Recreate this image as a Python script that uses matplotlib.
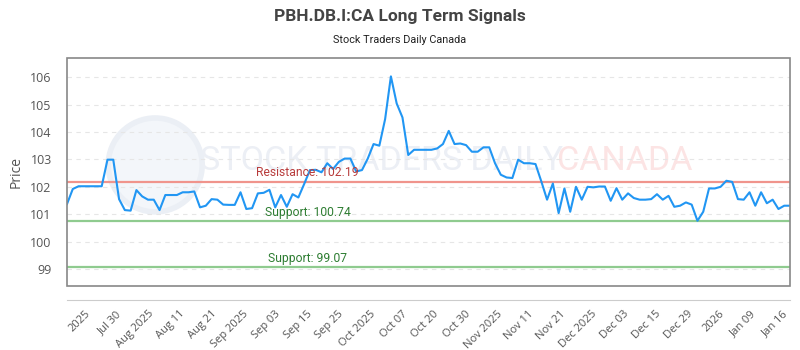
import matplotlib
matplotlib.use("Agg")
import matplotlib.pyplot as plt
from matplotlib.patches import Rectangle, Ellipse
import numpy as np

# ---- data ----
prices = [
    101.37, 101.92, 102.02, 102.02, 102.02, 102.02, 102.02, 102.99, 102.99, 101.55,
    101.15, 101.13, 101.88, 101.65, 101.53, 101.53, 101.15, 101.70, 101.70, 101.70,
    101.80, 101.80, 101.83, 101.25, 101.31, 101.55, 101.53, 101.35, 101.34, 101.34,
    101.80, 101.19, 101.22, 101.76, 101.78, 101.89, 101.25, 101.70, 101.27, 101.73,
    101.61, 102.10, 102.61, 102.62, 102.53, 102.86, 102.65, 102.91, 103.03, 103.03,
    102.56, 102.61, 103.03, 103.56, 103.50, 104.47, 106.03, 105.04, 104.53, 103.16,
    103.35, 103.35, 103.35, 103.35, 103.40, 103.56, 104.04, 103.56, 103.58, 103.52,
    103.28, 103.28, 103.44, 103.44, 102.86, 102.44, 102.34, 102.32, 102.99, 102.86,
    102.86, 102.83, 102.20, 101.53, 102.12, 101.04, 101.94, 101.09, 102.00, 101.53,
    102.00, 101.98, 102.01, 102.01, 101.49, 101.95, 101.53, 101.76, 101.59, 101.53,
    101.53, 101.55, 101.73, 101.53, 101.67, 101.27, 101.31, 101.43, 101.35, 100.76,
    101.09, 101.94, 101.94, 102.00, 102.22, 102.18, 101.55, 101.53, 101.80, 101.31,
    101.80, 101.40, 101.53, 101.19, 101.31, 101.31,
]
tick_labels = ["2025", "Jul 30", "Aug 2025", "Aug 11", "Aug 21", "Sep 2025", "Sep 03",
               "Sep 15", "Sep 25", "Oct 2025", "Oct 07", "Oct 20", "Oct 30", "Nov 2025",
               "Nov 11", "Nov 21", "Dec 2025", "Dec 03", "Dec 15", "Dec 29", "2026",
               "Jan 09", "Jan 16"]
resistance = 102.19
supports = [100.74, 99.07]
y_ticks = [99, 100, 101, 102, 103, 104, 105, 106]

title = "PBH.DB.I:CA Long Term Signals"
subtitle = "Stock Traders Daily Canada"

# ---- figure ----
fig = plt.figure(figsize=(8, 3.5), dpi=100)
top_px, bot_px, left_px, right_px = 58, 286, 67, 790
ax = fig.add_axes([left_px/800, 1 - bot_px/350, (right_px-left_px)/800, (bot_px-top_px)/350])

x = np.arange(len(prices))
ax.set_xlim(0, len(prices) - 1)
ax.set_ylim(98.38, 106.70)

# watermark
ax.add_patch(Ellipse((0.122, 0.531), 0.13, 0.412, transform=ax.transAxes,
                     facecolor="#f3f6fa", edgecolor="#ebeff5", lw=4, zorder=0))
ax.text(0.184, 0.548, "STOCK TRADERS DAILY", transform=ax.transAxes,
        family=["Liberation Sans Narrow", "Roboto"], fontsize=24.5, color="#eceff5",
        va="center", ha="left", zorder=0)
ax.text(0.678, 0.548, "CANADA", transform=ax.transAxes,
        family=["Liberation Sans Narrow", "Roboto"], fontsize=24.5, color="#fce4e4",
        va="center", ha="left", zorder=0)

ax.set_yticks(y_ticks)
ax.grid(axis="y", color="#e6e6e6", linestyle=(0, (4, 4)), linewidth=0.8)
ax.set_axisbelow(True)

ax.axhline(resistance, color="#f0948c", lw=1.6, zorder=2)
for s in supports:
    ax.axhline(s, color="#8fcb8f", lw=1.6, zorder=2)

ax.plot(x, prices, color="#2196f3", lw=1.5, zorder=3)

lab_x = 0.333
ax.text(lab_x, resistance + 0.08, f"Resistance: {resistance:.2f}", transform=ax.get_yaxis_transform(),
        ha="center", va="bottom", color="#b83c3c", fontsize=8.7, family="Roboto", zorder=4)
for s in supports:
    ax.text(lab_x, s + 0.08, f"Support: {s:.2f}", transform=ax.get_yaxis_transform(),
            ha="center", va="bottom", color="#2e7d32", fontsize=8.7, family="Roboto", zorder=4)

# frame
for sp in ["top", "right", "left"]:
    ax.spines[sp].set_visible(False)
ax.add_patch(Rectangle((0, 0), 1, 1, transform=ax.transAxes, fill=False,
                       edgecolor="#888888", lw=1.2, zorder=5, clip_on=False))
ax.spines["bottom"].set_position(("outward", 10))
ax.spines["bottom"].set_color("#cccccc")

ticks = np.linspace(3.7, 124.3, len(tick_labels))
ax.set_xticks(ticks)
ax.set_xticklabels(tick_labels, rotation=45, ha="right", va="center", rotation_mode="anchor")
ax.tick_params(axis="x", length=0, pad=9, labelsize=8, labelcolor="#555555")
ax.tick_params(axis="y", length=0, pad=11, labelsize=9, labelcolor="#555555")
for lbl in ax.get_xticklabels() + ax.get_yticklabels():
    lbl.set_family("Open Sans")

ax.set_ylabel("Price", fontsize=10, color="#555555", family="Open Sans", labelpad=5)

fig.text(0.5, 1 - 16/350, title, ha="center", va="center", fontsize=12.5, fontweight="bold",
         color="#444444", family=["Liberation Sans Narrow", "Roboto"])
fig.text(0.5, 1 - 40/350, subtitle, ha="center", va="center", fontsize=7.8,
         color="#222222", family=["Liberation Sans Narrow", "Roboto"])

fig.savefig("out.png", dpi=100)
